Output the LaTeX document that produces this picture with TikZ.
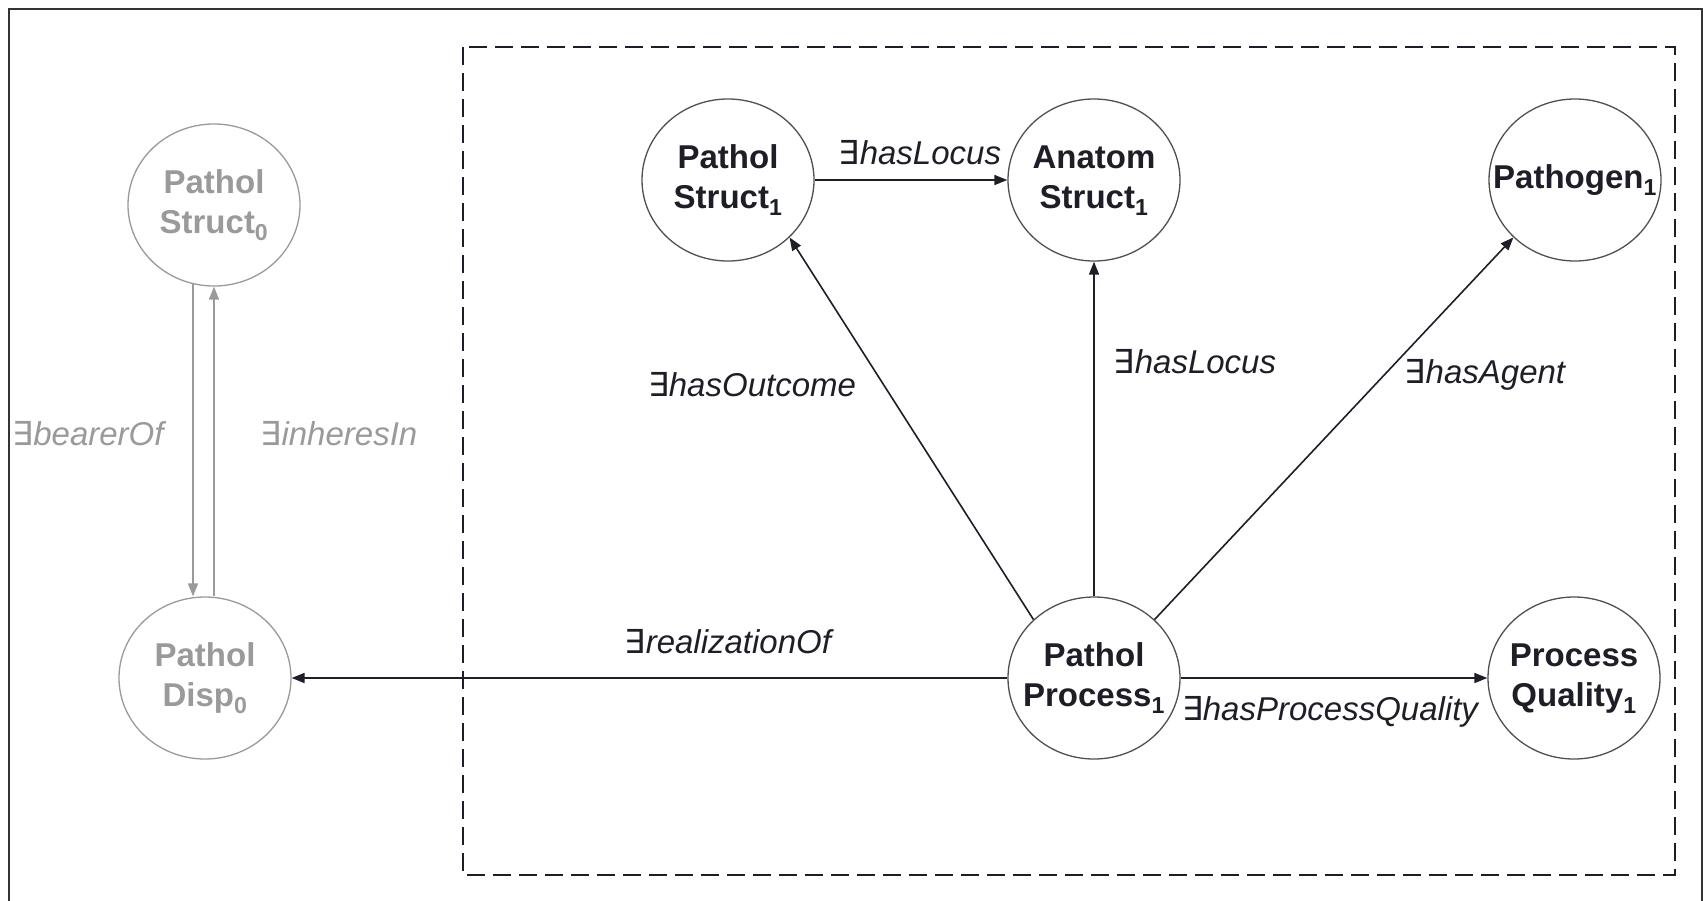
\documentclass[tikz,border=0pt]{standalone}
\usepackage{fontspec}
\setmainfont{Liberation Sans}
\newfontfamily\dejavu{DejaVu Sans}
\usetikzlibrary{shapes.geometric,arrows.meta}
\newcommand{\exq}{{\dejavu\upshape\mdseries ∃}}
\newcommand{\fixlbl}[1]{\makebox[0pt][c]{\begin{tabular}{@{}c@{}}#1\end{tabular}}}
\definecolor{ink}{HTML}{1E1E28}
\definecolor{faded}{HTML}{9A9A9A}
\definecolor{rim}{HTML}{505050}
\definecolor{framec}{HTML}{333333}
\begin{document}
\begin{tikzpicture}[x=1pt,y=-1pt,
  cls/.style={ellipse,draw=rim,line width=1.3pt,minimum width=172pt,minimum height=162pt,inner sep=0pt,font=\fontsize{33}{40}\selectfont\bfseries,text=ink},
  old/.style={cls,draw=faded,text=faded},
  rel/.style={font=\fontsize{33}{40}\selectfont\itshape,text=ink,inner sep=0pt},
  oldrel/.style={rel,text=faded},
  link/.style={draw=ink,line width=1.6pt,-{Triangle[length=13pt,width=10pt]}},
  oldlink/.style={link,draw=faded},
  outerframe/.style={draw=framec,line width=2.6pt},
  groupbox/.style={draw=ink,line width=2.6pt,dash pattern=on 18pt off 8pt}
]
\fill[white] (0,0) rectangle (1703,900);
\useasboundingbox (0,0) rectangle (1703,900);

% frames
\draw[outerframe] (9,905) -- (9,9) -- (1702,9) -- (1702,905);
\draw[groupbox] (463,47) rectangle (1675,875);

% nodes
\node[old] (s0) at (214,205) {\fixlbl{Pathol\\Struct\textsubscript{0}}};
\node[old] (d0) at (205,678) {\fixlbl{Pathol\\Disp\textsubscript{0}}};
\node[cls] (p1) at (728,180) {\fixlbl{Pathol\\Struct\textsubscript{1}}};
\node[cls] (a1) at (1094,180) {\fixlbl{Anatom\\Struct\textsubscript{1}}};
\node[cls] (pg) at (1575,180) {\fixlbl{Pathogen\textsubscript{1}}};
\node[cls] (pp) at (1094,678) {\fixlbl{Pathol\\Process\textsubscript{1}}};
\node[cls] (pq) at (1574,678) {\fixlbl{Process\\Quality\textsubscript{1}}};

% connectors
\draw[oldlink] ([xshift=-21pt,yshift=2.5pt]s0.south) -- ([xshift=-12pt]d0.north);
\draw[oldlink] ([xshift=9pt]d0.north) -- (s0.south);
\draw[link] (p1.east) -- (a1.west);
\draw[link] (pp.136) -- (p1.-43);
\draw[link] (pp.north) -- (a1.south);
\draw[link] (pp.44.5) -- (pg.223.6);
\draw[link] (pp.west) -- (d0.east);
\draw[link] (pp.east) -- (pq.west);

% labels
\node[oldrel] (lbearer) at (88,434) {\exq bearerOf};
\node[oldrel] (linheres) at (339,434) {\exq inheresIn};
\node[rel] (llocus1) at (920,153) {\exq hasLocus};
\node[rel] (loutcome) at (752,385) {\exq hasOutcome};
\node[rel] (llocus2) at (1195,362) {\exq hasLocus};
\node[rel] (lagent) at (1485,375) {\exq hasAgent};
\node[rel] (lreal) at (728,642) {\exq realizationOf};
\node[rel] (lquality) at (1330,712) {\exq hasProcessQuality};
\end{tikzpicture}
\end{document}
